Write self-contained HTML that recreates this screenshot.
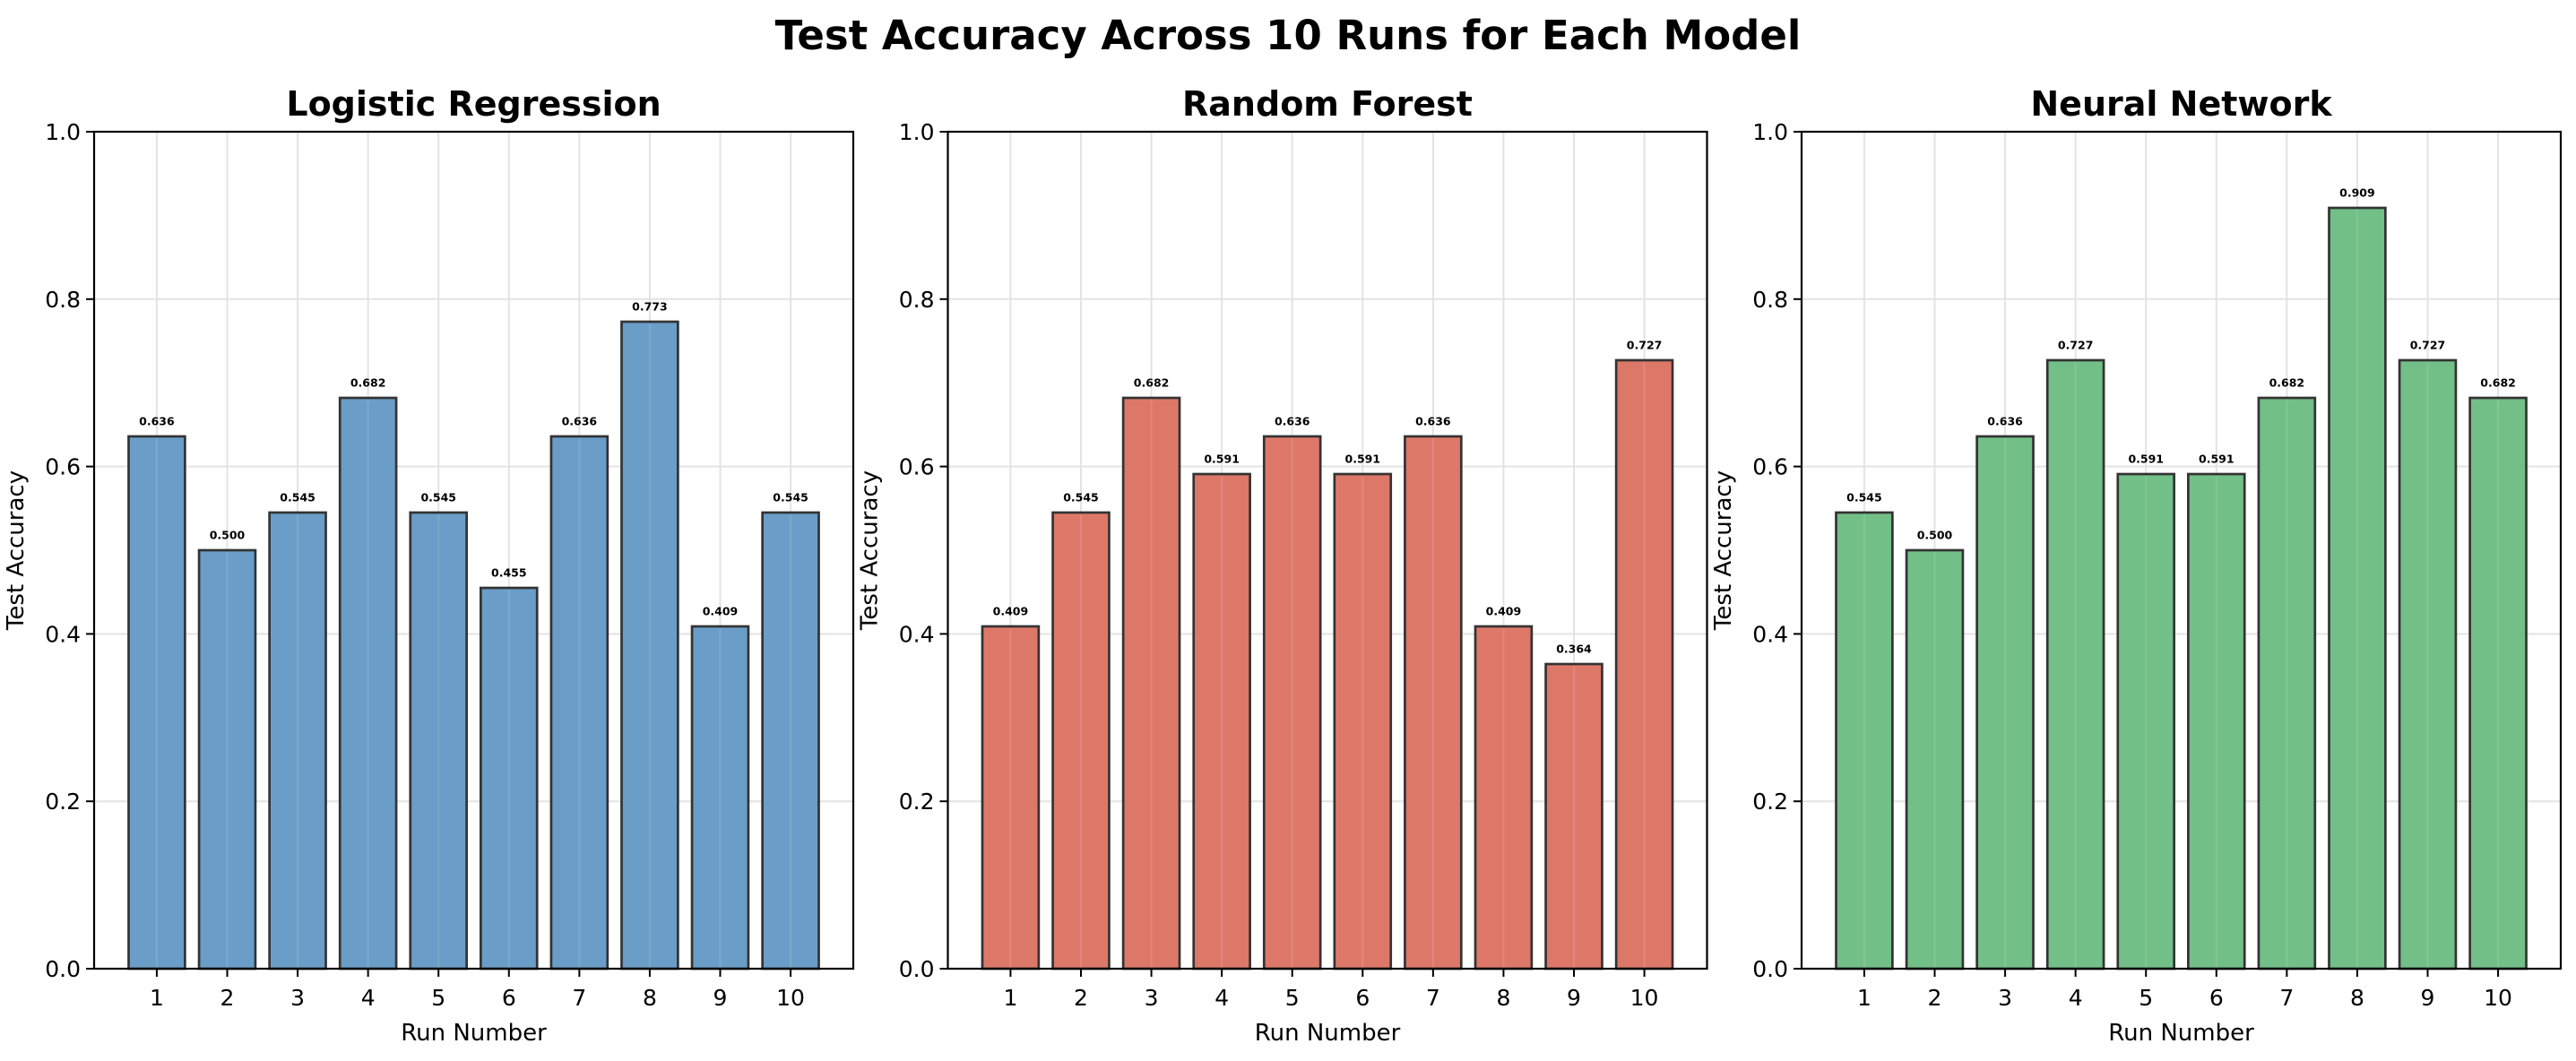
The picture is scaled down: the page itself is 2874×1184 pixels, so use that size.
<!DOCTYPE html>
<html><head><meta charset="utf-8">
<style>
html,body{margin:0;padding:0;background:#fff;}
svg{display:block;font-family:"DejaVu Sans","Liberation Sans",sans-serif;}
</style></head>
<body>
<svg id="chart" width="2874" height="1184" viewBox="0 0 2874 1184" xmlns="http://www.w3.org/2000/svg">
<text x="1437" y="55" text-anchor="middle" font-size="45" font-weight="bold">Test Accuracy Across 10 Runs for Each Model</text>
<g id="panels"></g>
</svg>
<script>
const runs = [1,2,3,4,5,6,7,8,9,10];
const modelNames = ["Logistic Regression","Random Forest","Neural Network"];
const lrValues = [0.636,0.500,0.545,0.682,0.545,0.455,0.636,0.773,0.409,0.545];
const rfValues = [0.409,0.545,0.682,0.591,0.636,0.591,0.636,0.409,0.364,0.727];
const nnValues = [0.545,0.500,0.636,0.727,0.591,0.591,0.682,0.909,0.727,0.682];
const yTicks = [0.0,0.2,0.4,0.6,0.8,1.0];
const yTickLabels = ["0.0","0.2","0.4","0.6","0.8","1.0"];

const NS = "http://www.w3.org/2000/svg";
const seriesList = [lrValues, rfValues, nnValues];
const colors = ["#6a9dc8","#dd7869","#72bf87"];
const panelLefts = [105, 1057.5, 2010];
const panelW = 847, plotTop = 147, plotBottom = 1081;
const xMin = 0.11, xMax = 10.89;
const root = document.getElementById('panels');

function mk(tag, attrs, parent){
  const e = document.createElementNS(NS, tag);
  for (const k in attrs) e.setAttribute(k, attrs[k]);
  parent.appendChild(e);
  return e;
}
function yScale(v){ return plotBottom - v*(plotBottom-plotTop); }

seriesList.forEach((vals, p) => {
  const L = panelLefts[p];
  const xScale = r => L + (r - xMin)/(xMax - xMin)*panelW;
  const g = mk('g', {}, root);
  
  
  yTicks.forEach(t => {
    const l = mk('line', {x1:L, x2:L+panelW, y1:yScale(t), y2:yScale(t), stroke:'#e3e3e3', 'stroke-width':2}, g);
    
    
  });
  runs.forEach(r => {
    const l = mk('line', {x1:xScale(r), x2:xScale(r), y1:plotTop, y2:plotBottom, stroke:'#e3e3e3', 'stroke-width':2}, g);
    
    
  });
  const bw = 0.8/(xMax-xMin)*panelW;
  vals.forEach((v, i) => {
    const cx = xScale(runs[i]);
    const b = mk('rect', {x:cx-bw/2, y:yScale(v), width:bw, height:yScale(0)-yScale(v), fill:colors[p], stroke:'#333', 'stroke-width':2.7}, g);
    
    
    const t = mk('text', {x:cx, y:yScale(v+0.01)-3, 'text-anchor':'middle', 'font-size':12.5, 'font-weight':'bold'}, g);
    t.textContent = v.toFixed(3);
    
    
    const gl = mk('line', {x1:cx, x2:cx, y1:yScale(v)+2, y2:plotBottom, stroke:'#ffffff', 'stroke-opacity':0.12, 'stroke-width':2}, g);
    
    
  });
  const f = mk('rect', {x:L, y:plotTop, width:panelW, height:plotBottom-plotTop, fill:'none', stroke:'#000', 'stroke-width':2.2}, g);
  
  
  yTicks.forEach((t, i) => {
    const tk = mk('line', {x1:L-9, x2:L, y1:yScale(t), y2:yScale(t), stroke:'#000', 'stroke-width':2}, g);
    
    
    const tl = mk('text', {x:L-15, y:yScale(t)+9, 'text-anchor':'end', 'font-size':25}, g);
    tl.textContent = yTickLabels[i];
    
    
  });
  runs.forEach(r => {
    const tk = mk('line', {x1:xScale(r), x2:xScale(r), y1:plotBottom, y2:plotBottom+9, stroke:'#000', 'stroke-width':2}, g);
    
    
    const tl = mk('text', {x:xScale(r), y:plotBottom+41, 'text-anchor':'middle', 'font-size':25}, g);
    tl.textContent = String(r);
    
    
  });
  const xt = mk('text', {x:L+panelW/2, y:1161, 'text-anchor':'middle', 'font-size':26}, g);
  xt.textContent = 'Run Number';
  
  
  const yt = mk('text', {x:0, y:0, 'text-anchor':'middle', 'font-size':26, transform:'translate(' + (L-79) + ',' + ((plotTop+plotBottom)/2) + ') rotate(-90)'}, g);
  yt.textContent = 'Test Accuracy';
  
  
  const pt = mk('text', {x:L+panelW/2, y:129, 'text-anchor':'middle', 'font-size':38, 'font-weight':'bold'}, g);
  pt.textContent = modelNames[p];
  
  
});
</script>
</body></html>
